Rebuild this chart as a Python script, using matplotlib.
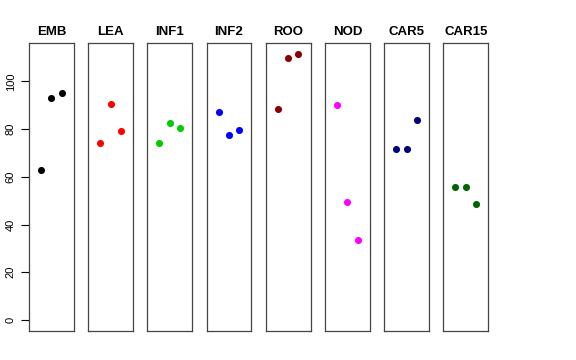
import matplotlib
matplotlib.use("Agg")
import matplotlib.pyplot as plt

plt.rcParams['font.family'] = ['Liberation Sans', 'DejaVu Sans']

# groups and their three values each
groups = ['EMB', 'LEA', 'INF1', 'INF2', 'ROO', 'NOD', 'CAR5', 'CAR15']
emb = [62.9, 93.2, 95.0]
lea = [74.1, 90.5, 79.1]
inf1 = [74.2, 82.4, 80.5]
inf2 = [87.0, 77.7, 79.5]
roo = [88.3, 109.9, 111.5]
nod = [90.2, 49.3, 33.4]
car5 = [71.6, 71.6, 83.8]
car15 = [55.6, 55.6, 48.5]
values = [emb, lea, inf1, inf2, roo, nod, car5, car15]
colors = ['black', 'red', '#00CD00', 'blue', '#8B0000', 'magenta', '#000080', '#006400']
xpos = [1, 2, 3]
yticks = [0, 20, 40, 60, 80, 100]

W, H = 576, 360
fig = plt.figure(figsize=(W / 100, H / 100), dpi=100)

left0 = 29.0
pw = 44.7
step = 59.2
top = 43.3
bottom = 330.7

for i, (name, vals, col) in enumerate(zip(groups, values, colors)):
    x0 = left0 + i * step
    ax = fig.add_axes([x0 / W, (H - bottom) / H, pw / W, (bottom - top) / H])
    ax.scatter(xpos, vals, s=26, color=col, zorder=3, linewidths=0)
    ax.set_xlim(-0.16, 4.16)
    ax.set_ylim(-4.5, 116)
    ax.set_xticks([])
    for sp in ax.spines.values():
        sp.set_color('#444444')
        sp.set_linewidth(0.9)
    ax.set_title(name, fontsize=9.5, fontweight='bold', pad=6)
    if i == 0:
        ax.set_yticks(yticks)
        ax.set_yticklabels([str(t) for t in yticks], rotation=90, va='center', fontsize=8)
        ax.tick_params(axis='y', length=5.5, width=0.8, pad=4)
    else:
        ax.set_yticks([])

fig.savefig('out.png', dpi=100)
